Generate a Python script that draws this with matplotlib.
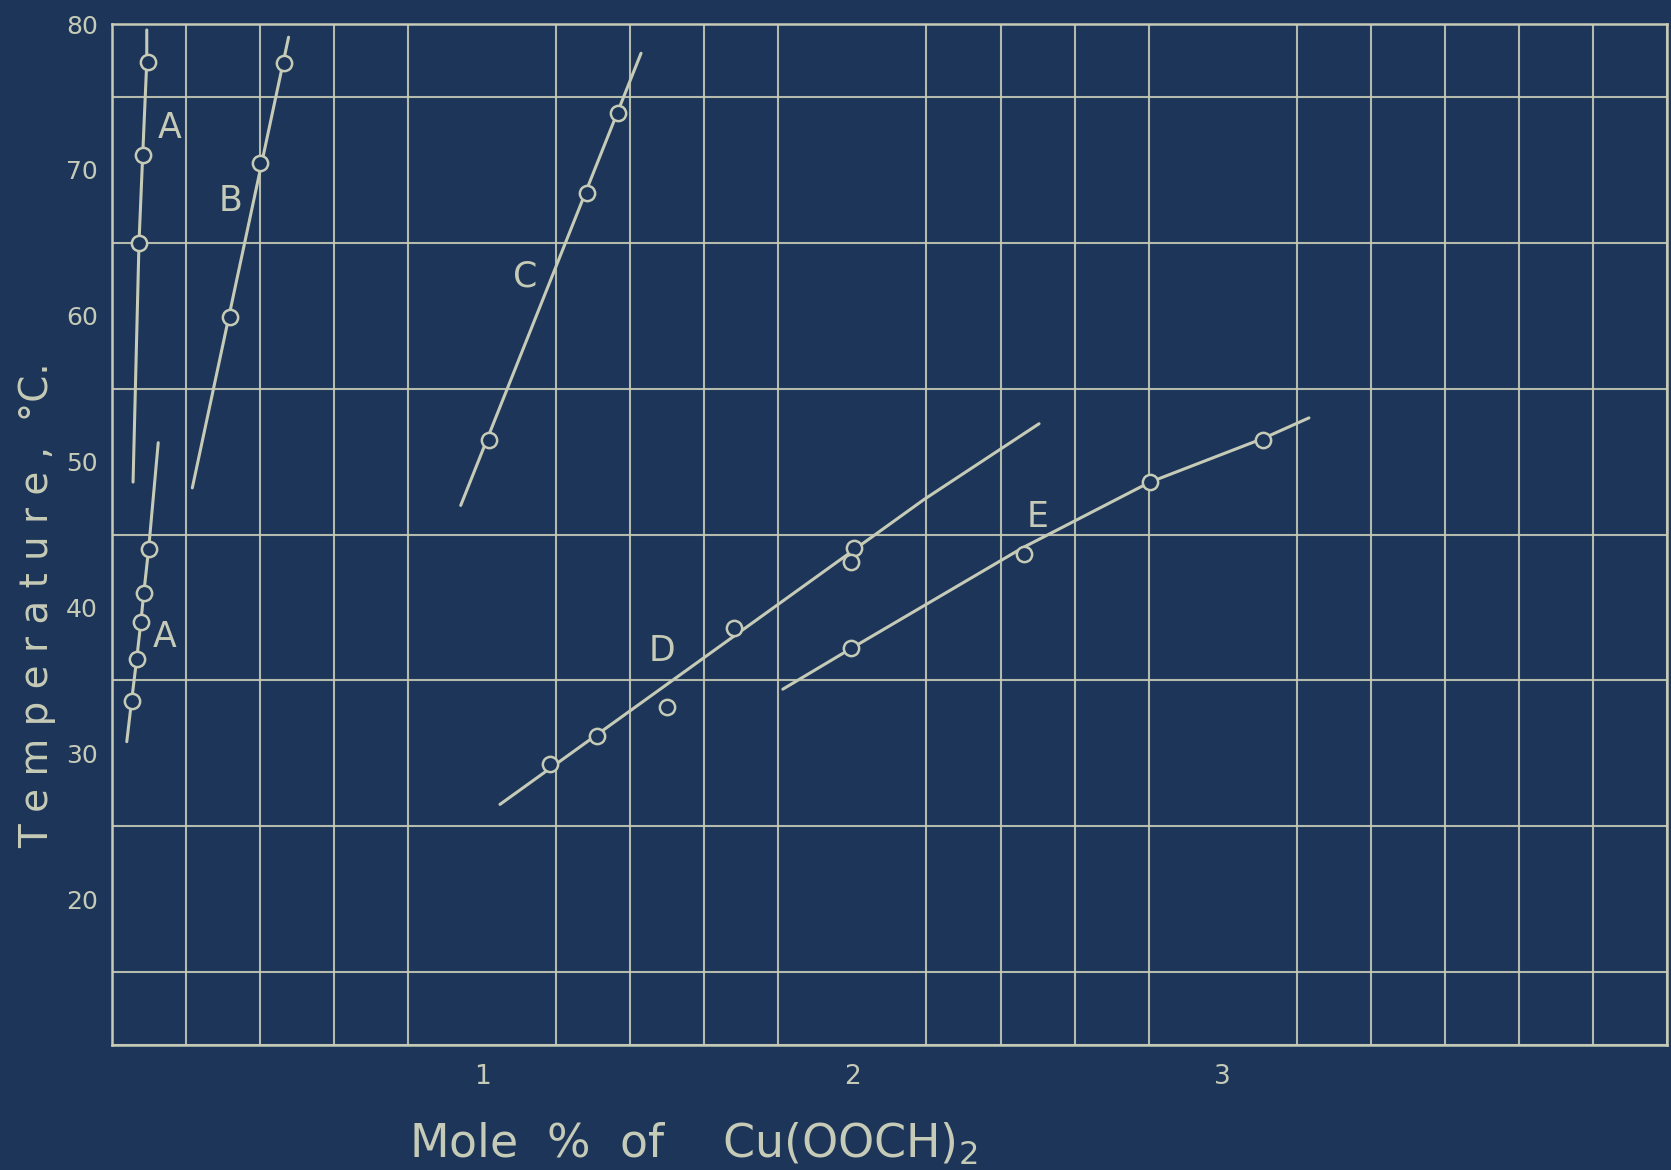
import matplotlib
matplotlib.use("Agg")
import matplotlib.pyplot as plt
import numpy as np

# ---------------- data ----------------
# measured points (open circles)
a_hi_x = [0.097, 0.083, 0.073]
a_hi_y = [77.4, 71.0, 65.0]
a_lo_x = [0.099, 0.086, 0.078, 0.067, 0.053]
a_lo_y = [44.0, 41.0, 39.0, 36.5, 33.6]
b_x = [0.466, 0.400, 0.319]
b_y = [77.3, 70.5, 59.9]
c_x = [1.367, 1.284, 1.019]
c_y = [73.9, 68.4, 51.5]
d_x = [1.183, 1.311, 1.500, 1.680, 2.005, 1.995]
d_y = [29.3, 31.2, 33.2, 38.6, 44.1, 43.1]
e_x = [1.997, 2.464, 2.804, 3.110]
e_y = [37.2, 43.7, 48.6, 51.5]

# drawn curves through the points
a_hi_line_x = [0.057, 0.073, 0.083, 0.094, 0.094]
a_hi_line_y = [48.6, 65.0, 71.0, 77.4, 79.6]
a_lo_line_x = [0.040, 0.053, 0.067, 0.078, 0.086, 0.099, 0.125]
a_lo_line_y = [30.8, 33.6, 36.5, 39.0, 41.0, 44.0, 51.3]
b_line_x = [0.217, 0.477]
b_line_y = [48.2, 79.1]
c_line_x = [0.942, 1.429]
c_line_y = [47.0, 78.0]
d_line_x = [1.048, 2.193, 2.504]
d_line_y = [26.5, 47.4, 52.6]
e_line_x = [1.812, 1.997, 2.460, 2.804, 3.110, 3.233]
e_line_y = [34.4, 37.2, 44.1, 48.6, 51.6, 53.0]

# curve labels
curve_labels = ["A", "B", "A", "C", "D", "E"]
label_x = [0.155, 0.320, 0.142, 1.115, 1.485, 2.500]
label_y = [72.9, 67.9, 38.0, 62.7, 37.0, 46.2]

x_ticks = [1, 2, 3]
x_ticklabels = ["1", "2", "3"]
y_ticks = [20, 30, 40, 50, 60, 70, 80]
y_ticklabels = ["20", "30", "40", "50", "60", "70", "80"]

x_label = "Mole  %  of    Cu(OOCH)$_2$"
y_label = "T e m p e r a t u r e ,  \u00b0C."

# ---------------- style ----------------
BG = "#1c3558"
INK = "#c6cbb7"

fig = plt.figure(figsize=(16.71, 11.70), dpi=100, facecolor=BG)
ax = fig.add_axes([0.0670, 0.1068, 0.9306, 0.8726], facecolor=BG)

ax.set_xlim(0, 4.2)
ax.set_ylim(10, 80)

# graph-paper grid
ax.set_xticks(np.arange(0, 4.2001, 0.2), minor=True)
ax.set_yticks(np.arange(10, 80.001, 5), minor=True)
ax.grid(which="minor", color=INK, linewidth=1.5, alpha=0.9)
ax.set_axisbelow(True)

for s in ax.spines.values():
    s.set_color(INK)
    s.set_linewidth(1.8)

ax.set_xticks(x_ticks)
ax.set_xticklabels(x_ticklabels, fontsize=19, color=INK)
ax.set_yticks(y_ticks)
ax.set_yticklabels(y_ticklabels, fontsize=18, color=INK)
ax.tick_params(axis="x", which="both", length=0, pad=14)
ax.tick_params(axis="y", which="both", length=0, pad=10)

lw = 2.2
for lx, ly in [(a_hi_line_x, a_hi_line_y), (a_lo_line_x, a_lo_line_y),
               (b_line_x, b_line_y), (c_line_x, c_line_y),
               (d_line_x, d_line_y), (e_line_x, e_line_y)]:
    ax.plot(lx, ly, color=INK, linewidth=lw, solid_capstyle="round", zorder=3)

for px, py in [(a_hi_x, a_hi_y), (a_lo_x, a_lo_y), (b_x, b_y),
               (c_x, c_y), (d_x, d_y), (e_x, e_y)]:
    ax.plot(px, py, linestyle="none", marker="o", markersize=11,
            markerfacecolor=BG, markeredgecolor=INK, markeredgewidth=1.8, zorder=4)

for t, tx, ty in zip(curve_labels, label_x, label_y):
    ax.text(tx, ty, t, fontsize=25, color=INK, ha="center", va="center", zorder=5)

fig.text(0.4147, 0.022, x_label, fontsize=33, color=INK, ha="center", va="center")
fig.text(0.022, 0.483, y_label, fontsize=28, color=INK, ha="center", va="center",
         rotation=90)

fig.savefig("out.png", dpi=100, facecolor=BG)
